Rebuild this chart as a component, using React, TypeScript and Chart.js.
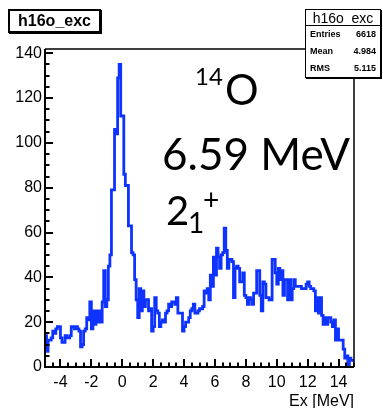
import React, { useEffect, useRef } from 'react';
import { Chart, registerables } from 'chart.js';

Chart.register(...registerables);

// Histogram h16o_exc : 200 bins of 0.1 MeV from -5 to 15
const binLow = -5;
const binWidth = 0.1;
const counts = [
  13, 14, 7, 12, 12, 13, 16, 15, 17, 18,
  18, 13, 11, 11, 14, 13, 13, 14, 18, 18,
  17, 18, 17, 16, 9, 10, 16, 17, 22, 21,
  29, 17, 25, 19, 25, 20, 25, 20, 29, 43,
  27, 30, 45, 50, 79, 79, 106, 104, 129, 135,
  112, 112, 86, 81, 81, 63, 63, 51, 50, 39,
  30, 22, 35, 25, 34, 27, 30, 30, 25, 26,
  16, 18, 31, 25, 24, 18, 20, 21, 20, 24,
  25, 28, 27, 29, 29, 28, 31, 24, 24, 24,
  16, 18, 20, 20, 22, 25, 26, 28, 24, 24,
  25, 26, 26, 27, 34, 33, 35, 30, 41, 36,
  49, 41, 53, 49, 44, 50, 51, 62, 52, 44,
  48, 48, 47, 31, 44, 45, 44, 38, 38, 42,
  32, 31, 28, 31, 30, 28, 33, 33, 43, 43,
  32, 25, 38, 37, 31, 31, 30, 30, 48, 48,
  42, 37, 44, 39, 43, 32, 39, 39, 30, 39,
  30, 35, 39, 36, 36, 36, 36, 35, 35, 35,
  37, 38, 36, 35, 35, 34, 25, 31, 24, 31,
  23, 19, 22, 19, 22, 22, 20, 18, 21, 12,
  17, 12, 12, 12, 8, 4, 5, 1, 4, 3,
];

const xMin = -5;
const xMax = 15;
const yMin = 0;
const yMax = 141.9;
const xMajorTicks = [-4, -2, 0, 2, 4, 6, 8, 10, 12, 14];
const yMajorTicks = [0, 20, 40, 60, 80, 100, 120, 140];
const xMinorStep = 0.5;
const yMinorStep = 5;

const histName = 'h16o_exc';
const statLabels = ['Entries', 'Mean', 'RMS'];
const statValues = ['6618', '4.984', '5.115'];
const xTitle = 'Ex [MeV]';

const LINE_BLUE = '#0f33ff';
const ROOT_FONT = '"Liberation Sans", Arial, sans-serif';
const NOTE_FONT = 'Lato, "Open Sans", sans-serif';

const rootAxes = {
  id: 'rootAxes',
  afterDatasetsDraw(chart: any) {
    const { ctx, chartArea, scales } = chart;
    const { left, right, top, bottom } = chartArea;
    const x = scales.x;
    const y = scales.y;
    ctx.save();
    ctx.strokeStyle = '#000';
    // frame
    ctx.lineWidth = 1.5;
    ctx.beginPath();
    ctx.moveTo(left, top);
    ctx.lineTo(right, top);
    ctx.lineTo(right, bottom);
    ctx.stroke();
    ctx.lineWidth = 2;
    ctx.beginPath();
    ctx.moveTo(left, top);
    ctx.lineTo(left, bottom);
    ctx.lineTo(right, bottom);
    ctx.stroke();
    // x ticks
    ctx.lineWidth = 2;
    ctx.beginPath();
    const nx = Math.round((xMax - xMin) / xMinorStep);
    for (let i = 0; i <= nx; i++) {
      const v = xMin + i * xMinorStep;
      const px = Math.round(x.getPixelForValue(v));
      const major = xMajorTicks.some((t) => Math.abs(t - v) < 1e-6);
      ctx.moveTo(px, bottom);
      ctx.lineTo(px, bottom - (major ? 8 : 4.5));
    }
    // y ticks
    const ny = Math.floor((yMax - yMin) / yMinorStep);
    for (let i = 0; i <= ny; i++) {
      const v = yMin + i * yMinorStep;
      const py = Math.round(y.getPixelForValue(v));
      const major = yMajorTicks.some((t) => Math.abs(t - v) < 1e-6);
      ctx.moveTo(left, py);
      ctx.lineTo(left + (major ? 8 : 4.5), py);
    }
    ctx.stroke();
    // x title
    ctx.fillStyle = '#000';
    ctx.font = '16px ' + ROOT_FONT;
    ctx.textAlign = 'right';
    ctx.textBaseline = 'alphabetic';
    ctx.fillText(xTitle, right, bottom + 39);
    ctx.restore();
  },
};

export default function App() {
  const ref = useRef<HTMLCanvasElement>(null);
  useEffect(() => {
    if (!ref.current) return;
    const pts = counts.map((c, i) => ({ x: binLow + i * binWidth, y: c }));
    pts.push({ x: binLow + counts.length * binWidth, y: counts[counts.length - 1] });
    const chart = new Chart(ref.current, {
      type: 'line',
      data: {
        datasets: [
          {
            data: pts,
            stepped: 'after',
            borderColor: LINE_BLUE,
            borderWidth: 2.8,
            pointRadius: 0,
            fill: false,
          },
        ],
      },
      options: {
        animation: false,
        responsive: false,
        events: [],
        layout: { padding: { top: 49, right: 29, left: 0, bottom: 0 } },
        plugins: { legend: { display: false }, tooltip: { enabled: false }, title: { display: false } },
        scales: {
          x: {
            type: 'linear',
            min: xMin,
            max: xMax,
            border: { display: false },
            grid: { display: false, drawTicks: false },
            afterBuildTicks: (s: any) => {
              s.ticks = xMajorTicks.map((v) => ({ value: v }));
            },
            afterFit: (s: any) => {
              s.height = 41;
            },
            ticks: {
              padding: 6,
              maxRotation: 0,
              autoSkip: false,
              color: '#000',
              font: { family: ROOT_FONT, size: 16 },
            },
          },
          y: {
            type: 'linear',
            min: yMin,
            max: yMax,
            border: { display: false },
            grid: { display: false, drawTicks: false },
            afterBuildTicks: (s: any) => {
              s.ticks = yMajorTicks.map((v) => ({ value: v }));
            },
            afterFit: (s: any) => {
              s.width = 45;
            },
            ticks: {
              padding: 3,
              autoSkip: false,
              color: '#000',
              font: { family: ROOT_FONT, size: 16 },
            },
          },
        },
      },
      plugins: [rootAxes],
    });
    return () => chart.destroy();
  }, []);

  const abs = (s: React.CSSProperties): React.CSSProperties => ({ position: 'absolute', margin: 0, lineHeight: 1, whiteSpace: 'nowrap', ...s });

  return (
    <div style={{ position: 'fixed', left: 0, top: 0, width: 383, height: 408, background: '#fff', overflow: 'hidden' }}>
      <canvas ref={ref} width={383} height={408} style={{ display: 'block', position: 'absolute', left: 0, top: 0 }} />
      {/* title box */}
      <div
        style={abs({
          left: 8,
          top: 9,
          width: 89,
          height: 20,
          border: '2px solid #000',
          boxShadow: '1px 1px 0 #000',
          background: '#fff',
          fontFamily: ROOT_FONT,
          fontWeight: 'bold',
          fontSize: 16,
          display: 'flex',
          alignItems: 'center',
          justifyContent: 'center',
        })}
      >
        {histName}
      </div>
      {/* stats box */}
      <div
        style={abs({
          left: 305,
          top: 9,
          width: 74,
          height: 67,
          border: '1px solid #000',
          boxShadow: '1px 1px 0 #000',
          background: '#fff',
          fontFamily: ROOT_FONT,
        })}
      >
        <div
          style={{
            height: 15,
            borderBottom: '1px solid #000',
            fontSize: 14,
            lineHeight: '16px',
            textAlign: 'center',
          }}
        >
          {histName}
        </div>
        {statLabels.map((l, i) => (
          <div
            key={l}
            style={{
              height: 17,
              display: 'flex',
              alignItems: 'center',
              justifyContent: 'space-between',
              padding: '0 4px 0 4px',
              fontSize: 9,
              fontWeight: 'bold',
              fontFamily: '"Liberation Sans Narrow", ' + ROOT_FONT,
            }}
          >
            <span>{l}</span>
            <span>{statValues[i]}</span>
          </div>
        ))}
      </div>
      {/* annotations */}
      <span style={abs({ left: 195, top: 64, fontFamily: NOTE_FONT, fontSize: 24, color: '#000' })}>14</span>
      <span style={abs({ left: 225, top: 68, fontFamily: NOTE_FONT, fontSize: 42, color: '#000' })}>O</span>
      <span style={abs({ left: 162, top: 131, fontFamily: NOTE_FONT, fontSize: 44, color: '#000' })}>6.59 MeV</span>
      <span style={abs({ left: 166, top: 190, fontFamily: NOTE_FONT, fontSize: 40, color: '#000' })}>2</span>
      <span style={abs({ left: 188, top: 208, fontFamily: NOTE_FONT, fontSize: 28, color: '#000' })}>1</span>
      <span style={abs({ left: 203, top: 185, fontFamily: NOTE_FONT, fontSize: 28, color: '#000' })}>+</span>
    </div>
  );
}
